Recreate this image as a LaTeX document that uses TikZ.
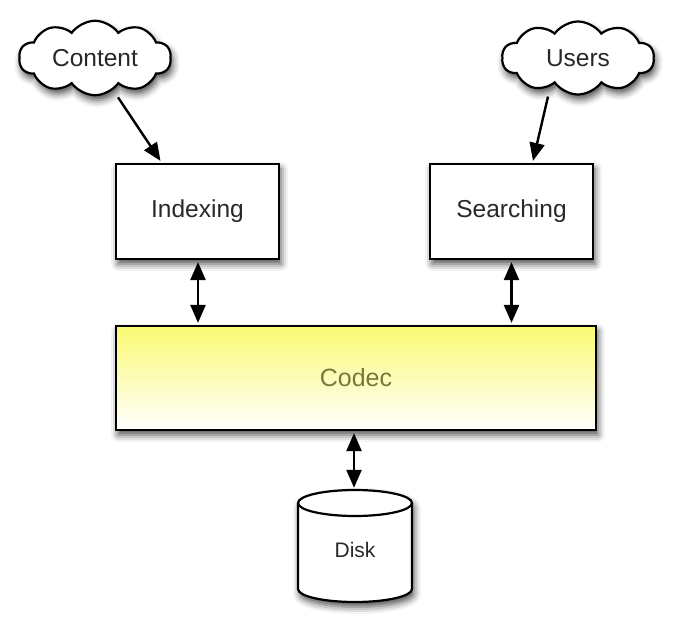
\documentclass[tikz,border=0pt]{standalone}
\usepackage{fontspec}
\setmainfont{Liberation Sans}
\usetikzlibrary{shapes.symbols,shadows.blur,arrows.meta,calc}
\definecolor{codecyellow}{RGB}{250,250,115}
\definecolor{codectext}{RGB}{122,120,60}
\definecolor{txt}{RGB}{40,40,40}
\begin{document}
\begin{tikzpicture}[x=1pt,y=1pt,
  shad/.style={blur shadow={shadow xshift=2pt,shadow yshift=-5pt,shadow blur radius=7pt,shadow opacity=70}},
  cloudbox/.style={cloud,cloud puffs=10,cloud puff arc=110,aspect=2.1,draw,line width=2.2pt,fill=white,minimum width=152pt,minimum height=73pt,inner sep=0pt,text=txt,font=\fontsize{24.5}{26}\selectfont,shad},
  procbox/.style={rectangle,draw,line width=2.2pt,fill=white,minimum width=163pt,minimum height=95pt,text=txt,font=\fontsize{24.5}{26}\selectfont,shad},
  conn/.style={draw=black,line width=2.4pt,-{Triangle[length=18pt,width=15pt,fill=black]}},
  dconn/.style={draw=black,line width=2.4pt,{Triangle[length=18pt,width=15pt,fill=black]}-{Triangle[length=18pt,width=15pt,fill=black]},shorten <=2pt,shorten >=2pt}]
\useasboundingbox (0,0) rectangle (676,624);
\node[cloudbox] (content) at (95,566) {Content};
\node[cloudbox] (users) at (578,566) {Users};
\node[procbox] (indexing) at (197.5,412.5) {Indexing};
\node[procbox] (searching) at (511.5,412.5) {Searching};
\node[rectangle,draw,line width=2.2pt,minimum width=480pt,minimum height=104pt,
  top color=codecyellow,middle color=codecyellow!45!white,bottom color=white,
  text=codectext,font=\fontsize{25}{26}\selectfont,shad] (codec) at (356,246) {Codec};
\node[minimum width=114pt,minimum height=112pt,inner sep=0pt] (disk) at (355,78) {};
\fill[white,shad] (298,121) -- (298,35) arc[start angle=180,end angle=360,x radius=57,y radius=13] -- (412,121) arc[start angle=0,end angle=180,x radius=57,y radius=13] -- cycle;
\draw[line width=2.2pt] (298,121) -- (298,35) arc[start angle=180,end angle=360,x radius=57,y radius=13] -- (412,121);
\draw[line width=2.2pt] (355,121) ellipse[x radius=57,y radius=13];
\node[text=txt,font=\fontsize{21}{24}\selectfont] (disklabel) at (disk.center) [yshift=-4pt] {Disk};
\coordinate (ca) at ($(content.south)+(23,-1)$);
\coordinate (ib) at ($(indexing.north)+(-37,2)$);
\coordinate (ua) at ($(users.south)+(-30,-1)$);
\coordinate (sb) at ($(searching.north)+(21.5,2)$);
\coordinate (is) at ($(indexing.south)+(0.5,0)$);
\coordinate (dn) at ($(disk.north)+(-1,0)$);
\draw[conn] (ca) -- (ib);
\draw[conn] (ua) -- (sb);
\draw[dconn] (is) -- (is |- codec.north);
\draw[dconn] (searching.south) -- (searching.south |- codec.north);
\draw[dconn] (dn) -- (dn |- codec.south);
\end{tikzpicture}
\end{document}
